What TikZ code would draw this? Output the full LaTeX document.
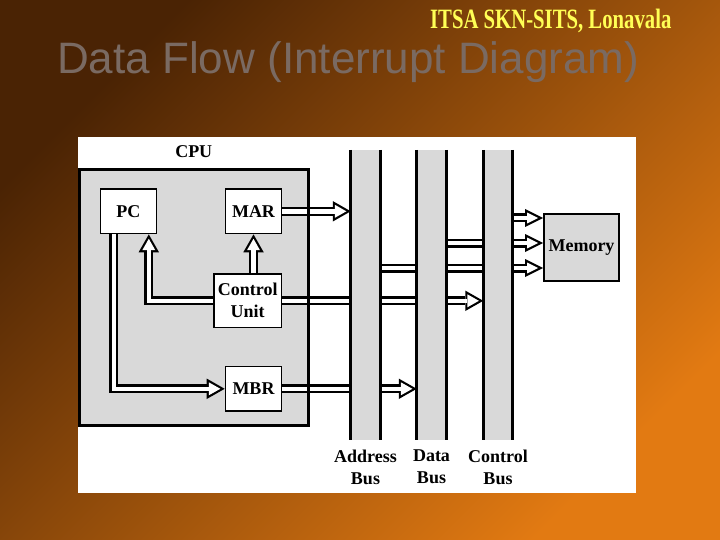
\documentclass[tikz,border=0pt]{standalone}
\usepackage{fontspec}
\setmainfont{Liberation Serif}
\newfontfamily\slidefont{Liberation Sans}
\usetikzlibrary{arrows.meta, positioning}
\definecolor{flowBrown}{HTML}{4A2304}
\definecolor{flowOrange}{HTML}{E27A12}
\definecolor{flowGray}{HTML}{D9D9D9}
\definecolor{flowTitle}{HTML}{7A6A62}
\definecolor{flowYellow}{HTML}{FFFF55}
\pgfdeclarelayer{back}
\pgfdeclarelayer{front}
\pgfsetlayers{back,main,front}

\begin{document}
\begin{tikzpicture}[
        x=1pt, y=-1pt,
        font=\bfseries\fontsize{18}{22}\selectfont,
        regbox/.style={
            draw=black,
            line width=1.6pt,
            fill=white,
            align=center,
            inner sep=0pt,
            minimum width=56pt,
            minimum height=44.5pt
        },
        cpufill/.style={
            fill=flowGray,
            inner sep=0pt,
            outer sep=0pt,
            minimum width=228.5pt,
            minimum height=255.5pt
        },
        cpuframe/.style={
            draw=black,
            line width=3pt
        },
        busbar/.style={
            fill=flowGray,
            inner sep=0pt,
            outer sep=0pt,
            minimum width=29.5pt,
            minimum height=290pt
        },
        busline/.style={
            draw=black,
            line width=2.6pt
        },
        buslabel/.style={
            align=center,
            inner sep=0pt
        },
        flowarrow/.style={
            draw=white,
            line width=4.6pt,
            shorten >=4.4pt,
            -{Triangle[length=11.4pt, width=12.9pt, line width=0pt]},
            preaction={
                draw=black,
                line width=9pt,
                shorten >=0pt,
                -{Triangle[length=18pt, width=20.5pt, line width=0pt]}
            }
        },
        memarrow/.style={
            draw=white,
            line width=4.6pt,
            shorten >=4.9pt,
            -{Triangle[length=10.9pt, width=10.9pt, line width=0pt]},
            preaction={
                draw=black,
                line width=9pt,
                shorten >=0pt,
                -{Triangle[length=18pt, width=18pt, line width=0pt]}
            }
        }
    ]

    \useasboundingbox (0,0) rectangle (720,540);

    \begin{pgfonlayer}{back}
        \shade[top color=flowBrown, bottom color=flowOrange, shading angle=45]
            (0,0) rectangle (720,540);
        \fill[white] (78,137) rectangle (636,493);
        \node[cpufill] (cpu) at (193.75,297.75) {};
    \end{pgfonlayer}

    \node[anchor=base west, inner sep=0pt, text=flowTitle,
        font=\slidefont\fontsize{44}{50}\selectfont] (title) at (57,74)
        {Data Flow (Interrupt Diagram)};
    \node[anchor=base west, inner sep=0pt, text=flowYellow, xscale=0.74,
        font=\bfseries\fontsize{28}{32}\selectfont] (school) at (430,29)
        {ITSA SKN-SITS, Lonavala};

    \node[anchor=base] (cpulabel) at ([yshift=12pt]cpu.north) {CPU};
    \node[regbox] (pc) at (128.3,211.3) {PC};
    \node[regbox] (mar) at (253.5,211.3) {MAR};
    \node[regbox, minimum width=67.5pt, minimum height=53.5pt] (cu)
        at (247.7,300.8) {Control\\Unit};
    \node[regbox] (mbr) at (253.5,388.8) {MBR};
    \node[regbox, fill=flowGray, line width=2pt, minimum width=75pt,
        minimum height=67pt, font=\bfseries\fontsize{18}{22}\selectfont]
        (memory) at (581.5,247.5) {Memory};

    % buses and the cpu frame lie over the arrows that cross them
    \begin{pgfonlayer}{front}
        \draw[cpuframe] (cpu.north west) rectangle (cpu.south east);
        \node[busbar] (abus) at (365.5,295) {};
        \node[busbar] (dbus) at (431.5,295) {};
        \node[busbar] (cbus) at (498,295) {};
        \foreach \b in {abus, dbus, cbus} {
            \draw[busline] (\b.north west) -- (\b.south west)
                (\b.north east) -- (\b.south east);
        }
    \end{pgfonlayer}

    \node[buslabel, below=9.5pt of abus.south] (alabel) {Address\\Bus};
    \node[buslabel, below=9.5pt of dbus.south] (dlabel) {Data\\Bus};
    \node[buslabel, below=9.5pt of cbus.south] (clabel) {Control\\Bus};

    \coordinate (memtop) at ([yshift=29.5pt]memory.west);
    \coordinate (memmid) at ([yshift=4.5pt]memory.west);
    \coordinate (membot) at ([yshift=-20.5pt]memory.west);

    \draw[flowarrow] (mar.east) -- (abus.west |- mar.east);
    \draw[flowarrow] (cu.north -| mar.south) -- (mar.south);
    \draw[flowarrow] (cu.west) -| ([xshift=20.5pt]pc.south);
    \draw[flowarrow] ([xshift=-14.5pt]pc.south) |- (mbr.west);
    \draw[flowarrow] (cu.east) -- (cbus.west |- cu.east);
    \draw[flowarrow] (mbr.east) -- (dbus.west |- mbr.east);
    \draw[memarrow] (cbus.east |- memtop) -- (memtop);
    \draw[memarrow] (dbus.east |- memmid) -- (memmid);
    \draw[memarrow] (abus.east |- membot) -- (membot);

\end{tikzpicture}
\end{document}
